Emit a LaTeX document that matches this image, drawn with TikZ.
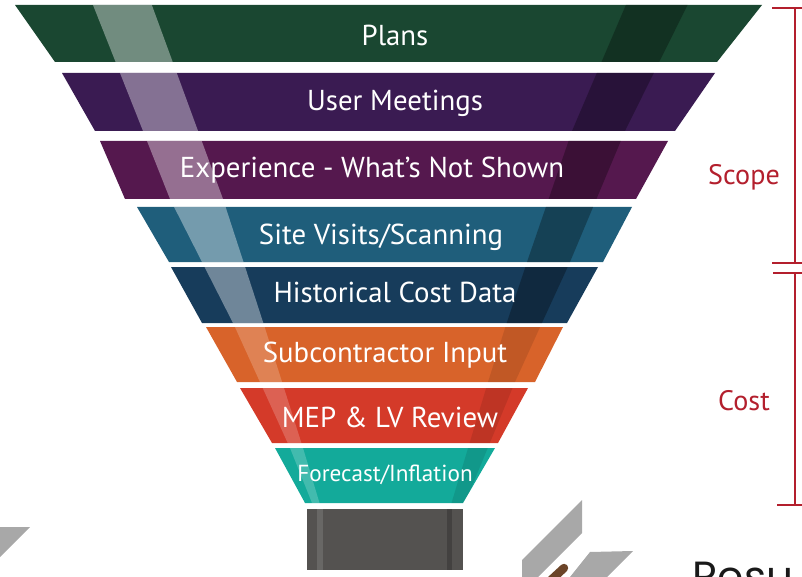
\documentclass[tikz,border=0pt]{standalone}
\usepackage{fontspec}
\setmainfont{PT Sans}
\newfontfamily\resfont{Poppins}

\definecolor{plansgreen}{HTML}{1A4731}
\definecolor{meetpurple}{HTML}{3A1B52}
\definecolor{exppurple}{HTML}{55184E}
\definecolor{sitesblue}{HTML}{1F5E7B}
\definecolor{histblue}{HTML}{173C5B}
\definecolor{subsorange}{HTML}{D8632A}
\definecolor{mepred}{HTML}{D43A29}
\definecolor{forecastteal}{HTML}{13AA9A}
\definecolor{funnelgray}{HTML}{545250}
\definecolor{scopered}{HTML}{B31F2D}
\definecolor{decogray}{HTML}{A8A8A8}
\definecolor{rodbrown}{HTML}{6B4428}

\tikzset{
    bandtext/.style={text=white,anchor=base,inner sep=0pt,font=\fontsize{20.5}{23}\selectfont},
    sidetext/.style={text=scopered,inner sep=0pt,font=\fontsize{20}{22}\selectfont},
    litestripe/.style={fill=white,fill opacity=0.38},
    darkstripe/.style={fill=black,fill opacity=0.3},
    bracket/.style={draw=scopered,line width=1.4pt},
}

\begin{document}
\begin{tikzpicture}[x=0.025cm,y=-0.025cm]
    \useasboundingbox (0,0) rectangle (802,577);
    \clip (0,0) rectangle (802,577);
    % Funnel bands, coloured by height, stripes on top
    \begin{scope}
        \clip (15,5) -- (762,5) -- (717,62) -- (55,62) -- cycle
              (62,73) -- (715,73) -- (675,131) -- (95,131) -- cycle
              (100,141) -- (668,141) -- (636,199) -- (125,199) -- cycle
              (137,207) -- (632,207) -- (603,262) -- (169,262) -- cycle
              (171,267) -- (598,267) -- (567,323) -- (202,323) -- cycle
              (206,327) -- (563,327) -- (535,382) -- (237,382) -- cycle
              (240,388) -- (528,388) -- (498,443) -- (272,443) -- cycle
              (275,448) -- (495,448) -- (463,503) -- (305,503) -- cycle;
        \fill[plansgreen] (0,0) rectangle (802,67);
        \fill[meetpurple] (0,67) rectangle (802,136);
        \fill[exppurple] (0,136) rectangle (802,203);
        \fill[sitesblue] (0,203) rectangle (802,265);
        \fill[histblue] (0,265) rectangle (802,325);
        \fill[subsorange] (0,325) rectangle (802,385);
        \fill[mepred] (0,385) rectangle (802,446);
        \fill[forecastteal] (0,446) rectangle (802,506);
        \fill[litestripe] (91,0) -- (150,0) -- (223,199) -- (264,325) -- (234,325) -- (170,199) -- cycle;
        \fill[litestripe,fill opacity=0.2] (234,325) -- (264,325) -- (303,448) -- (321,508)
            -- (314,508) -- (290,448) -- cycle;
        \fill[darkstripe] (628,0) -- (690,0) -- (625,131) -- (570,262) -- (541,325)
            -- (506,325) -- (527,262) -- (572,131) -- cycle;
        \fill[darkstripe,fill opacity=0.1] (506,325) -- (541,325) -- (515,382) -- (463,508)
            -- (450,508) -- (488,382) -- cycle;
    \end{scope}
    % Spout
    \fill[funnelgray] (307,509) rectangle (463,570);
    \fill[white,fill opacity=0.12] (317,509) rectangle (323,570);
    \fill[black,fill opacity=0.2] (447,509) rectangle (452,570);
    % Band labels
    \node[bandtext] (plans) at (395,46) {Plans};
    \node[bandtext] (meetings) at (395,111) {User Meetings};
    \node[bandtext] (experience) at (372,178) {Experience - What's Not Shown};
    \node[bandtext] (sitevisits) at (381,244) {Site Visits/Scanning};
    \node[bandtext] (histcost) at (395,302) {Historical Cost Data};
    \node[bandtext] (subinput) at (385,362) {Subcontractor Input};
    \node[bandtext] (mepreview) at (390,427) {MEP \& LV Review};
    \node[bandtext,font=\fontsize{16.5}{18}\selectfont] (forecast) at (385,481) {Forecast/Inflation};
    % Brackets
    \draw[bracket] (772,8) -- (802,8) (795,8) -- (795,263) (772,263) -- (802,263);
    \draw[bracket] (773,273) -- (802,273) (795,273) -- (795,505) (777,505) -- (802,505);
    \node[sidetext] (scopelbl) at (744,177) {Scope};
    \node[sidetext] (costlbl) at (744,401) {Cost};
    % Cut-off pieces at the bottom
    \fill[decogray] (0,527) -- (30,527) -- (0,557) -- cycle;
    \fill[decogray] (522,560) -- (582,500) -- (582,533) -- (522,593) -- cycle;
    \fill[decogray] (590,552) -- (633,551) -- (607,577) -- (570,577) -- cycle;
    \draw[rodbrown,line width=6pt,line cap=round] (551,580) -- (564,568);
    \node[anchor=base west,inner sep=0pt,text=black!90,font=\resfont\fontsize{30}{34}\selectfont] (results) at (692,591) {Resu};
\end{tikzpicture}
\end{document}
